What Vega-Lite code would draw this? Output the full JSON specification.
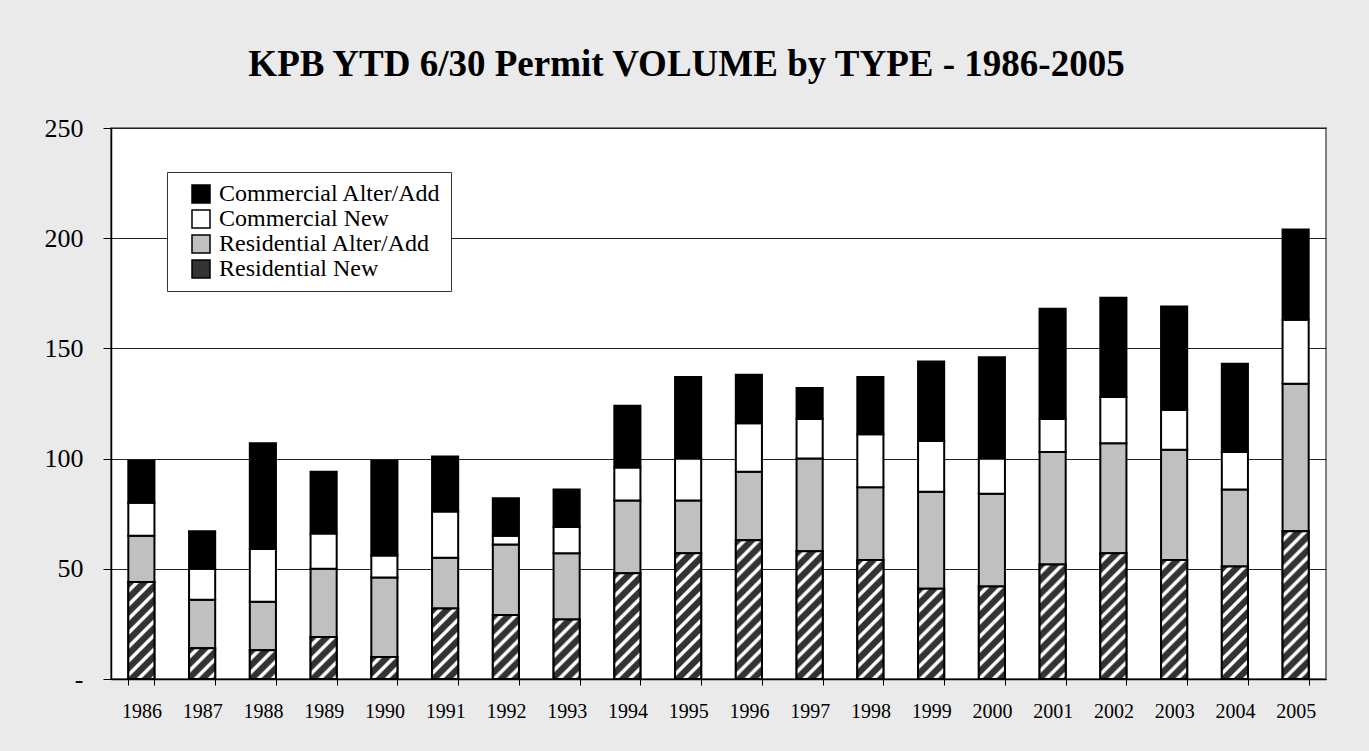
{
  "$schema": "https://vega.github.io/schema/vega-lite/v6.json",
  "width": 1215,
  "height": 551,
  "autosize": "none",
  "padding": {"left": 111, "top": 128, "right": 43, "bottom": 72},
  "background": "#eaeaea",
  "config": {
    "view": {"fill": "white", "stroke": "#808080", "strokeWidth": 2},
    "font": "Liberation Serif"
  },
  "title": {
    "text": "KPB YTD 6/30 Permit VOLUME by TYPE - 1986-2005",
    "font": "Liberation Serif",
    "fontSize": 37,
    "fontWeight": "bold",
    "color": "black",
    "anchor": "middle",
    "frame": "group",
    "baseline": "alphabetic",
    "offset": 2,
    "dx": -32
  },
  "data": {
    "values": [
      {"year": "1986", "type": "Residential New", "count": 44}, {"year": "1986", "type": "Residential Alter/Add", "count": 21}, {"year": "1986", "type": "Commercial New", "count": 15}, {"year": "1986", "type": "Commercial Alter/Add", "count": 19},
      {"year": "1987", "type": "Residential New", "count": 14}, {"year": "1987", "type": "Residential Alter/Add", "count": 22}, {"year": "1987", "type": "Commercial New", "count": 14}, {"year": "1987", "type": "Commercial Alter/Add", "count": 17},
      {"year": "1988", "type": "Residential New", "count": 13}, {"year": "1988", "type": "Residential Alter/Add", "count": 22}, {"year": "1988", "type": "Commercial New", "count": 24}, {"year": "1988", "type": "Commercial Alter/Add", "count": 48},
      {"year": "1989", "type": "Residential New", "count": 19}, {"year": "1989", "type": "Residential Alter/Add", "count": 31}, {"year": "1989", "type": "Commercial New", "count": 16}, {"year": "1989", "type": "Commercial Alter/Add", "count": 28},
      {"year": "1990", "type": "Residential New", "count": 10}, {"year": "1990", "type": "Residential Alter/Add", "count": 36}, {"year": "1990", "type": "Commercial New", "count": 10}, {"year": "1990", "type": "Commercial Alter/Add", "count": 43},
      {"year": "1991", "type": "Residential New", "count": 32}, {"year": "1991", "type": "Residential Alter/Add", "count": 23}, {"year": "1991", "type": "Commercial New", "count": 21}, {"year": "1991", "type": "Commercial Alter/Add", "count": 25},
      {"year": "1992", "type": "Residential New", "count": 29}, {"year": "1992", "type": "Residential Alter/Add", "count": 32}, {"year": "1992", "type": "Commercial New", "count": 4}, {"year": "1992", "type": "Commercial Alter/Add", "count": 17},
      {"year": "1993", "type": "Residential New", "count": 27}, {"year": "1993", "type": "Residential Alter/Add", "count": 30}, {"year": "1993", "type": "Commercial New", "count": 12}, {"year": "1993", "type": "Commercial Alter/Add", "count": 17},
      {"year": "1994", "type": "Residential New", "count": 48}, {"year": "1994", "type": "Residential Alter/Add", "count": 33}, {"year": "1994", "type": "Commercial New", "count": 15}, {"year": "1994", "type": "Commercial Alter/Add", "count": 28},
      {"year": "1995", "type": "Residential New", "count": 57}, {"year": "1995", "type": "Residential Alter/Add", "count": 24}, {"year": "1995", "type": "Commercial New", "count": 19}, {"year": "1995", "type": "Commercial Alter/Add", "count": 37},
      {"year": "1996", "type": "Residential New", "count": 63}, {"year": "1996", "type": "Residential Alter/Add", "count": 31}, {"year": "1996", "type": "Commercial New", "count": 22}, {"year": "1996", "type": "Commercial Alter/Add", "count": 22},
      {"year": "1997", "type": "Residential New", "count": 58}, {"year": "1997", "type": "Residential Alter/Add", "count": 42}, {"year": "1997", "type": "Commercial New", "count": 18}, {"year": "1997", "type": "Commercial Alter/Add", "count": 14},
      {"year": "1998", "type": "Residential New", "count": 54}, {"year": "1998", "type": "Residential Alter/Add", "count": 33}, {"year": "1998", "type": "Commercial New", "count": 24}, {"year": "1998", "type": "Commercial Alter/Add", "count": 26},
      {"year": "1999", "type": "Residential New", "count": 41}, {"year": "1999", "type": "Residential Alter/Add", "count": 44}, {"year": "1999", "type": "Commercial New", "count": 23}, {"year": "1999", "type": "Commercial Alter/Add", "count": 36},
      {"year": "2000", "type": "Residential New", "count": 42}, {"year": "2000", "type": "Residential Alter/Add", "count": 42}, {"year": "2000", "type": "Commercial New", "count": 16}, {"year": "2000", "type": "Commercial Alter/Add", "count": 46},
      {"year": "2001", "type": "Residential New", "count": 52}, {"year": "2001", "type": "Residential Alter/Add", "count": 51}, {"year": "2001", "type": "Commercial New", "count": 15}, {"year": "2001", "type": "Commercial Alter/Add", "count": 50},
      {"year": "2002", "type": "Residential New", "count": 57}, {"year": "2002", "type": "Residential Alter/Add", "count": 50}, {"year": "2002", "type": "Commercial New", "count": 21}, {"year": "2002", "type": "Commercial Alter/Add", "count": 45},
      {"year": "2003", "type": "Residential New", "count": 54}, {"year": "2003", "type": "Residential Alter/Add", "count": 50}, {"year": "2003", "type": "Commercial New", "count": 18}, {"year": "2003", "type": "Commercial Alter/Add", "count": 47},
      {"year": "2004", "type": "Residential New", "count": 51}, {"year": "2004", "type": "Residential Alter/Add", "count": 35}, {"year": "2004", "type": "Commercial New", "count": 17}, {"year": "2004", "type": "Commercial Alter/Add", "count": 40},
      {"year": "2005", "type": "Residential New", "count": 67}, {"year": "2005", "type": "Residential Alter/Add", "count": 67}, {"year": "2005", "type": "Commercial New", "count": 29}, {"year": "2005", "type": "Commercial Alter/Add", "count": 41}
    ]
  },
  "encoding": {
    "x": {
      "field": "year",
      "type": "nominal",
      "sort": null,
      "scale": {"paddingInner": 0.57, "paddingOuter": 0.285},
      "axis": {
        "title": null,
        "labelAngle": 0,
        "labelFont": "Liberation Serif",
        "labelFontSize": 20,
        "labelColor": "black",
        "labelPadding": 16,
        "domainColor": "black",
        "domainWidth": 1.5,
        "tickColor": "black",
        "tickSize": 6,
        "tickBand": "extent",
        "grid": false
      }
    },
    "y": {
      "field": "count",
      "type": "quantitative",
      "scale": {"domain": [0, 250], "nice": false},
      "axis": {
        "title": null,
        "values": [0, 50, 100, 150, 200, 250],
        "labelExpr": "datum.value == 0 ? '-' : datum.label",
        "labelFont": "Liberation Serif",
        "labelFontSize": 26,
        "labelColor": "black",
        "labelPadding": 20,
        "domainColor": "black",
        "domainWidth": 1.5,
        "tickColor": "black",
        "tickSize": 8,
        "grid": true,
        "gridColor": "#222222",
        "gridWidth": 1
      }
    }
  },
  "layer": [
    {
      "mark": {"type": "bar", "stroke": "black", "strokeWidth": 2},
      "encoding": {
        "color": {
          "field": "type",
          "type": "nominal",
          "scale": {
            "domain": ["Commercial Alter/Add", "Commercial New", "Residential Alter/Add", "Residential New"],
            "range": ["#000000", "#ffffff", "#c0c0c0", "#333333"]
          },
          "legend": {
            "title": null,
            "orient": "none",
            "legendX": 56,
            "legendY": 44,
            "padding": 10,
            "fillColor": "white",
            "strokeColor": "#333333",
            "symbolType": "square",
            "symbolSize": 324,
            "symbolOffset": 12,
            "symbolStrokeColor": "black",
            "symbolStrokeWidth": 1.5,
            "symbolOpacity": 1,
            "labelFont": "Liberation Serif",
            "labelFontSize": 24,
            "labelColor": "black",
            "labelOffset": 6,
            "labelLimit": 400,
            "rowPadding": 1
          }
        },
        "order": {"field": "type", "sort": "descending"}
      }
    },
    {
      "transform": [{"filter": "datum.type == 'Residential New'"}],
      "mark": {
        "type": "bar",
        "stroke": "black",
        "strokeWidth": 2,
        "fill": {"expr": "{gradient:'linear',x1:0,y1:0,x2:196*bandwidth('x')/(pow(bandwidth('x'),2)+pow(scale('y',0)-scale('y',datum.count),2)),y2:196*(scale('y',0)-scale('y',datum.count))/(pow(bandwidth('x'),2)+pow(scale('y',0)-scale('y',datum.count),2)),stops:[{offset:0,color:'#333'},{offset:0.0286,color:'#333'},{offset:0.0393,color:'#fff'},{offset:0.0536,color:'#fff'},{offset:0.0643,color:'#333'},{offset:0.1000,color:'#333'},{offset:0.1107,color:'#fff'},{offset:0.1250,color:'#fff'},{offset:0.1357,color:'#333'},{offset:0.1714,color:'#333'},{offset:0.1821,color:'#fff'},{offset:0.1964,color:'#fff'},{offset:0.2071,color:'#333'},{offset:0.2429,color:'#333'},{offset:0.2536,color:'#fff'},{offset:0.2679,color:'#fff'},{offset:0.2786,color:'#333'},{offset:0.3143,color:'#333'},{offset:0.3250,color:'#fff'},{offset:0.3393,color:'#fff'},{offset:0.3500,color:'#333'},{offset:0.3857,color:'#333'},{offset:0.3964,color:'#fff'},{offset:0.4107,color:'#fff'},{offset:0.4214,color:'#333'},{offset:0.4571,color:'#333'},{offset:0.4679,color:'#fff'},{offset:0.4821,color:'#fff'},{offset:0.4929,color:'#333'},{offset:0.5286,color:'#333'},{offset:0.5393,color:'#fff'},{offset:0.5536,color:'#fff'},{offset:0.5643,color:'#333'},{offset:0.6000,color:'#333'},{offset:0.6107,color:'#fff'},{offset:0.6250,color:'#fff'},{offset:0.6357,color:'#333'},{offset:0.6714,color:'#333'},{offset:0.6821,color:'#fff'},{offset:0.6964,color:'#fff'},{offset:0.7071,color:'#333'},{offset:0.7429,color:'#333'},{offset:0.7536,color:'#fff'},{offset:0.7679,color:'#fff'},{offset:0.7786,color:'#333'},{offset:0.8143,color:'#333'},{offset:0.8250,color:'#fff'},{offset:0.8393,color:'#fff'},{offset:0.8500,color:'#333'},{offset:0.8857,color:'#333'},{offset:0.8964,color:'#fff'},{offset:0.9107,color:'#fff'},{offset:0.9214,color:'#333'},{offset:0.9571,color:'#333'},{offset:0.9679,color:'#fff'},{offset:0.9821,color:'#fff'},{offset:0.9929,color:'#333'},{offset:1,color:'#333'}]}"}
      }
    }
  ]
}
